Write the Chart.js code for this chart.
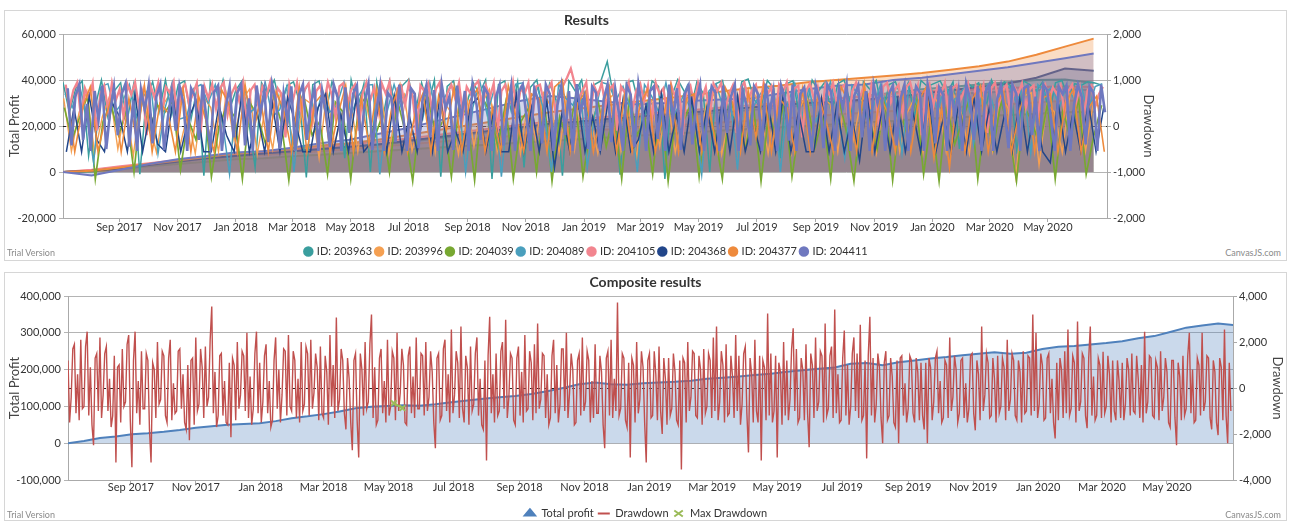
<!DOCTYPE html>
<html lang="en">
<head>
<meta charset="utf-8" />
<title>Results</title>
<style>
  * { margin: 0; padding: 0; }
  body { background: #fff; width: 1290px; height: 532px; position: relative; overflow: hidden; font-family: Lato, sans-serif; }
  .box { position: absolute; left: 4px; width: 1281px; border: 1px solid #d6d6d6; background: #fff; }
  #topBox { top: 10px; height: 249px; }
  #bottomBox { top: 272px; height: 247px; }
  .wrap { position: absolute; left: 0; top: 0; }
  .trial { position: absolute; left: 2px; top: 236px; font-size: 9px; color: #8a8a8a; }
  .brand { position: absolute; right: 5px; top: 236px; font-size: 9px; color: #8a8a8a; }
</style>
</head>
<body>
<div class="box" id="topBox">
  <div class="wrap" style="width:1163px;height:249px"><canvas id="resultsChart"></canvas></div>
  <span class="trial">Trial Version</span>
  <span class="brand">CanvasJS.com</span>
</div>
<div class="box" id="bottomBox">
  <div class="wrap" style="width:1281px;height:247px"><canvas id="compositeChart"></canvas></div>
  <span class="trial">Trial Version</span>
  <span class="brand">CanvasJS.com</span>
</div>

<script src="https://cdn.jsdelivr.net/npm/chart.js@4.4.1/dist/chart.umd.min.js"></script>
<script>
// x axis: days counted from 1 Jul 2017
const tickLabels = ["Sep 2017", "Nov 2017", "Jan 2018", "Mar 2018", "May 2018", "Jul 2018", "Sep 2018", "Nov 2018",
  "Jan 2019", "Mar 2019", "May 2019", "Jul 2019", "Sep 2019", "Nov 2019", "Jan 2020", "Mar 2020", "May 2020"];
const ids = ["203963", "203996", "204039", "204089", "204105", "204368", "204377", "204411"];
const idColors = ["#3a9e9e", "#f5a052", "#78a832", "#4a9fbd", "#f2858f", "#22468a", "#ee8a3c", "#6f78bf"];
const idLineWidths = [1.5, 1.4, 1.7, 1.5, 2.3, 1.5, 1.6, 2.6];

// per-ID drawdown, spread evenly from first to last day
const ddFirstDay = 3;
const ddLastDay = 1090;
const dd203963 = [950, 300, 820, 980, -650, 400, 1000, 200, 760, 940, 100, 880, -1050, 600, 960, 300, 1000, 250, 900, 980,
  150, 860, -1080, 950, 420, 1000, 350, 780, 990, 120, -900, 940, 700, 1000, 420, 880, 960, 500, -1120, 900,
  980, 250, 960, 640, -700, 1000, 380, 920, -1000, 960, 200, 990, 380, 880, 1020, 300, 940, 460, 1000, -1100,
  860, 980, 280, 450, 960, 700, 1000, -1150, 900, 980, 320, 960, -900, 840, 1000, 300, 920, 560, -1080, 980,
  760, 1000, 200, 900, 980, 1400, 620, -1060, 940, 990, 420, 250, 980, 860, -1150, 620, 1010, 760, 350, 960,
  700, -1000, 920, 990, 300, 150, 960, 1020, 560, 400, 990, 820, -700, 920, 980, 240, 320, 1000, 760, 960,
  300, 920, 1000, 480, -650, 960, 800, 990, 250, 900, 960, 600, 940, 200, 990, 860, 920, 980, 700, 960,
  -500, 980, 840, 940, 300, 1000, 700, 960, 880, -600, 980, 900, 760, 960, 250, 940, 990, 600, 920, 880,
  960, 940, 900];
const dd203996 = [600, -550, 300, 750, -600, 200, 680, -500, 450, -650, 720, 100, -580, 500, 780, -450, 250, -600, 650, 400,
  -560, 700, -300, 550, 800, -620, 350, -500, 720, 150, -580, 600, 480, -700, 760, -400, 300, 650, -560, 520,
  -250, 780, -600, 420, 690, -540, 100, 740, -580, 560, 300, -620, 700, -450, 480, 800, -560, 250, 650, -600,
  560, -300, 720, 400, -580, 640, -520, 780, 200, -600, 500, 690, -560, 350, -700, 760, 520, -450, 620, -580,
  300, 740, -560, 480, 700, -620, 200, 650, -540, 780, 420, -600, 560, 700, -580, 350, 720, -500, 610, 480,
  -560, 760, -300, 540, 700, -590, 420, 780, -560, 300, 650, -600, 720, 500, -560, 680, 250, -600, 740, 560,
  -540, 700, 380, -1100, 650, 720, -850, 480, 300, -580, 700, 620, -550, 500, 400];
const dd204039 = [400, -300, 200, 650, -1150, 100, 500, -200, 300, -1000, 600, -100, 450, 300, 550, -950, 150, -300, 620, -1100,
  0, 450, 200, -1150, 500, 200, -400, 650, 100, -1180, 300, 580, -200, 100, -1050, 520, 300, -1150, 400, 650,
  -300, 200, -1000, 580, -100, -1200, 350, 600, -200, 150, -1100, 480, 250, -1180, 620, 300, -450, 500, -1150, 100,
  400, -1000, 550, -1200, 200, -350, 600, -1100, 0, 500, -450, 300, -1150, 650, -200, 150, -1050, 580, -1200, 250,
  100, 520, -1100, 380, -150, -1150, 600, 100, -500, 480, -1200, 300, -300, 560, -1100, 50, 500, -450, 250, -1150,
  620, -100, -1200, 400, 150, -500, 550, -1180, 300, -250, 600, -1050, 200, -1200, 480, -400, 100, 650, -1150, 300,
  -500, 550, -100, -1200, 420, 100, -450, 500, -1150, 350, -300, 600, -1050, -200, 450];
const dd204089 = [700, 400, 900, 250, -800, 850, 920, 300, 500, 900, 200, 650, 880, -600, 400, 950, 150, 200, 820, 900,
  500, 900, 100, -1050, 750, 880, 300, 500, 940, 200, 350, 860, -1000, 600, 920, 150, 780, 300, 450, 960,
  250, 650, 880, 900, -1050, 300, 900, 400, 820, 560, 150, 940, 150, 600, 870, 650, -1000, 400, 960, 250,
  800, -1100, 500, 910, 940, 300, 850, 300, -1000, 920, 600, 450, 880, -900, 200, 950, 900, 550, 860, 400,
  -1000, 900, 650, 300, 940, 200, 500, 880, 250, -1050, 760, 920, 400, 600, -950, 900, 350, 650, 870, 720,
  -1000, 480, 930, 200, 820, 100, 550, 960, 300, -700, 880, 640, 200, 420, 900, 350, 780, -600, 920, 500,
  200, 860, 300, 940, 500, 700, 880, -400, 600, 900, 300, 800, 850, 500, 880, -600, 900, 700, 860, 400,
  880, 600, 900, 300, 860, 920];
const dd204105 = [900, 400, 780, 950, 150, 820, 600, 930, -100, 700, 880, 350, 940, 560, 800, 200, 910, 680, 950, 420,
  760, -200, 880, 620, 940, 300, 850, 720, 960, 100, 800, 900, 480, 700, 930, -150, 860, 600, 910, 380,
  820, 950, 250, 700, 880, 540, 940, 0, 780, 900, 420, 860, 640, 950, 300, 820, 700, -250, 900, 580,
  940, 360, 800, 920, 120, 760, 880, 500, 950, 680, 200, 860, 930, 420, 780, 900, -100, 700, 950, 560,
  840, 300, 920, 700, 960, 180, 820, 880, 450, 940, 620, -200, 880, 760, 930, 340, 800, 950, 100, 720,
  900, 600, 940, 260, 850, 700, 880, 980, 400, 880, 620, 930, -150, 760, 900, 480, 950, 300, 820, 700,
  940, 150, 860, 900, 520, 780, 950, 320, 700, 880, 1050, 1250, 920, 600, 760, 950, 200, 880, 680, 930,
  420, 800, 900, -100, 860, 720, 950, 360, 780, 920, 540, 880, 100, 940, 700, 820, 260, 900, 640, 950,
  -200, 760, 880, 480, 930, 600, 850, 200, 920, 760, 940, 320, 700, 880, -150, 820, 950, 560, 780, 900,
  400, 940, 680, 860, 150, 900, 740, 950, 300, 820, 880, -250, 760, 930, 600, 850, 220, 900, 700, 940,
  480, 820, 900, 100, 760, 950, 620, 880, 340, 920, 700, -100, 860, 940, 520, 780, 900, 260, 840, 950,
  600, 880, -200, 760, 920, 440, 850, 700, 940, 180, 820, 900, 560, 760, 930, 300, 880, 640, 900, -150,
  820, 940, 480, 760, 900, 260, 850, 700, 930, 400, 800, 880, 120, 760, 900, 560, 840, 700, 880, 300,
  760, 900, 500, 840, 200, 780, 880, 420, 700, 850];
const dd204368 = [-560, 400, -560, 650, -300, -560, 500, 200, -560, 700, -560, 300, -400, -560, 600, -560, 150, 550, -560, -560,
  450, -200, -560, 680, -560, 300, -560, 500, -560, 620, 100, -560, -560, 400, 700, -560, 250, -560, 600, -560,
  -350, 500, -560, 650, -560, 200, -560, 550, -560, 680, -560, -100, -560, 450, 620, -560, 300, -560, -560, 700,
  -560, 400, -560, 550, -900, 300, -560, 650, -560, 200, -560, 500, -560, 600, -560, -300, 450, -560, 700, -560,
  250, -560, 600, -560, 400, -560, 550, -560, 650, -560, 100, -560, 500, -560, 700, -560, 300, -560, -560, 600,
  -560, 450, -560, 200, -750, 650, -560, 400, -560, 550, -560, 300, -560, 680, -560, 200, -560, 500, -560, 620,
  -560, 400, -560, 250, -560, 600, -560, 450, -560, -800, 550, -560, 300, -560, 500, -560, 400];
const dd204377 = [700, -560, 400, 850, -560, 200, 750, -560, 600, -300, 880, -560, 500, 300, -560, 820, -560, 650, 100, -560,
  780, 450, -560, 900, -200, 600, -560, 750, 350, -560, 850, -560, 500, 700, -560, 250, 880, -560, 600, -400,
  800, -560, 450, 900, -560, 300, 720, -560, 650, -100, 850, -560, 550, 800, -560, 400, -560, 880, 200, -560,
  700, 600, -560, 850, 1000, -560, 500, 750, -560, 300, 880, -560, 650, -560, 450, 800, -560, 200, 900, -560,
  600, 700, -560, 350, -560, 850, 500, -560, 750, -250, 880, -560, 600, 400, -560, 800, -560, 700, 150, -560,
  850, 500, -560, 900, -560, 650, 300, -560, 780, -560, 550, 850, -700, 400, -900, 720, -560, 600, 880, -560,
  450, 750, -560, 300, 850, -560, 600, 700, -560, 500, 800, -560, 400, 650, -560];
const dd204411 = [820, -420, 650, 900, -300, 480, -540, 760, 120, 880, -500, 300, 850, -200, 700, 920, -450, 560, -540, 800,
  350, 880, -380, 640, 900, -520, 200, 760, -100, 870, 500, -540, 820, 650, -300, 900, 150, -480, 740, 880,
  -540, 400, 860, -250, 720, 900, -420, 600, -540, 880, 260, 780, -350, 920, 540, -500, 700, 100, 860, -540,
  680, 900, -300, 450, 830, -540, 760, 280, -460, 900, 620, -540, 840, -150, 700, 880, -400, 500, 910, -520,
  300, 860, -540, 720, 600, -350, 900, 200, -540, 820, 700, -480, 560, 880, -250, 780, -540, 900, 380, 650,
  -520, 880, 120, 760, -540, 900, 480, -300, 840, 700, -540, 620, 890, -420, 300, 860, -540, 740, 900, 180,
  -540, 820, 560, -380, 900, 700, -540, 450, 880, -200, 760, -540, 910, 320, 640, -500, 860, 720, -540, 580,
  900, -350, 800, 250, -540, 880, 680, -460, 920, 400, -540, 760, 860, -280, 600, -540, 900, 150, 820, -520,
  700, 880, -400, 520, 900, -540, 340, 860, 720, -540, 880, -150, 640, 900, -540, 780, 460, -420, 860, 700,
  -540, 920, 280, 760, -540, 880, 600, -320, 900, -540, 700, 840, 100, -540, 880, 560, -480, 900, 740, -540,
  820, 380, 900, -540, 660, 880, -250, 760, -540, 900, 500, 820, -540, 700, 880, -420, 600, 900, -540, 300,
  860, 720, -540, 900, 450, -380, 840, 680, -540, 880, 200, 760, -540, 920, 600, -300, 860, -540, 740, 900,
  -540, 560, 880, 320, -480, 900, 700, -540, 820, 880, -200, 640, -540, 900, 780, 100, -540, 860, 700, 880,
  -540, 480, 900, 620, -400, 860, 720, -540, 900, 300];

// per-ID total profit, one value every 30 days
const profitFirstDay = 3;
const profitDayStep = 30;
const profit203963 = [0, 300, 1500, 3000, 4500, 5500, 6500, 7500, 8500, 9500, 10500, 11500, 13000, 14500, 16000, 17500, 19000, 20500, 21500, 22500, 23500, 25000, 26000, 27000, 28000, 29500, 31000, 32000, 33000, 34500, 36000, 37000, 38000, 39000, 40000, 40200, 38700];
const profit203996 = [0, 800, 2200, 3500, 4500, 5800, 6800, 7500, 8200, 9000, 10000, 11000, 12000, 13000, 14000, 15000, 16000, 17000, 17800, 18500, 19200, 20000, 20800, 21500, 22300, 23000, 24000, 25000, 25800, 26500, 27300, 28000, 28800, 29500, 30200, 31000, 31000];
const profit204039 = [0, 200, 1200, 2500, 3500, 4500, 5500, 6000, 6800, 7500, 8300, 9000, 9800, 10500, 11300, 12000, 12800, 13500, 14200, 15000, 15800, 16500, 17200, 18000, 18700, 19300, 20000, 20800, 21500, 22200, 23000, 23600, 24200, 24800, 25300, 26000, 26200];
const profit204089 = [0, 500, 1800, 3200, 4800, 6000, 7000, 8000, 9000, 10000, 11000, 12200, 13500, 15000, 16300, 17500, 18800, 20000, 21000, 22000, 23000, 24000, 25000, 26000, 27000, 28000, 29000, 30000, 31000, 32000, 33000, 33800, 34500, 35000, 35500, 36000, 35500];
const profit204105 = [0, 1000, 2500, 3800, 5200, 6500, 7500, 8500, 9500, 10800, 12000, 13200, 14500, 16000, 17500, 19000, 20500, 22000, 23000, 24000, 25000, 26000, 27000, 28000, 29000, 30000, 31000, 32000, 33000, 34000, 35000, 35500, 36000, 36500, 37000, 37200, 37000];
const profit204368 = [0, 500, 1500, 3000, 4500, 6000, 7000, 8000, 9000, 10000, 11000, 12000, 13500, 15000, 16500, 18000, 19500, 21000, 22000, 23000, 24000, 25000, 26000, 27000, 28000, 29000, 30000, 30500, 31500, 32500, 34000, 35500, 37000, 38500, 41000, 45000, 44000];
const profit204377 = [0, 500, 2000, 3500, 5000, 6500, 8000, 9000, 10000, 11500, 12500, 14000, 16000, 18000, 20000, 22000, 24000, 26000, 27500, 29000, 30500, 32000, 33500, 35000, 36500, 37500, 39000, 40000, 41000, 42000, 43000, 44500, 46000, 48000, 51000, 54500, 58000];
const profit204411 = [0, -1500, 1000, 3500, 5500, 7000, 8500, 9000, 10500, 12500, 14000, 16500, 19000, 22000, 25000, 28000, 31000, 33000, 32000, 30500, 29500, 30000, 31000, 31500, 32000, 34000, 36000, 37500, 38000, 40000, 41000, 42500, 44000, 45500, 47500, 49500, 51500];

// composite results
const compositeProfitStep = 15;
const compositeProfit = [0, 6000, 14000, 18000, 24000, 27000, 31000, 36000, 42000, 46000, 50000, 52000, 54000, 60000, 68000, 73000, 79000, 86000, 95000, 99000, 101000, 103000, 102000, 106000, 111000, 116000, 121000, 125000, 128000, 134000, 141000, 150000, 160000, 165000, 160000, 159000, 163000, 165000, 167000, 170000, 175000, 178000, 181000, 185000, 189000, 194000, 198000, 202000, 206000, 216000, 218000, 212000, 220000, 225000, 230000, 234000, 239000, 243000, 247000, 243000, 246000, 256000, 262000, 264000, 268000, 272000, 277000, 285000, 291000, 302000, 314000, 320000, 325000, 321000];
const compositeDdFirstDay = 3;
const compositeDdLastDay = 1095;
const compositeDrawdown = [
  1200, -1500, -400, 1700, 1900, -1100, 600, -1400, 2100, -900, -800, 1800, 2450, -1200, 900, -1600, -2490, 1300, 1500, -1000,
  2200, -1300, -300, 1500, 1800, -1000, 400, -1700, -1200, 1400, -3240, 900, 1000, -1500, 1700, -800, -600, 1900, 2300, -1400,
  -3450, 1200, 2450, -1100, 300, -1600, 1600, -900, -900, 1500, 1200, -1800, -3240, 1100, 800, -1300, 2000, -700, -500, 1600,
  1400, -1200, -1500, 1300, 2100, -1400, 200, -1100, -1000, 1600, 1700, -900, 600, -1500, -1800, 1000, -2270, 1200, 1300, -1600,
  2200, -1000, -700, 1700, 900, -1300, 1800, -800, -400, 2100, 3540, -1100, 700, -1700, -1200, 1400, 1500, -1200, 300, -1500,
  -1600, 1100, -2140, 1300, 1000, -1400, 2000, -900, -300, 1600, 1400, -1000, 2400, -1300, 500, -1600, -900, 1500, 2450, -1100,
  1100, -1500, -600, 1400, 1900, -1100, 300, -1700, -1400, 1200, 2200, -900, 800, -1500, -300, 1700, 1600, -1200, 2300, -800,
  -1000, 1600, 1200, -1300, 400, -1500, 2000, -1000, -700, 1800, 1500, -1200, 2100, -900, -200, 1500, 900, -1400, 1800, -1100,
  -1300, 1400, 700, -1600, 2300, -800, 1000, -1300, 3060, -1000, -500, 1700, 1200, -1100, -1800, 1300, 400, -1500, -2710, 1200,
  1500, -1400, -3020, 1500, 800, -1200, 2000, -900, -600, 1900, 3190, -1300, 900, -1600, -1400, 1300, 1700, -1100, 300, -1500,
  2100, -1200, -800, 1600, 1300, -1400, 2400, -1000, -200, 1700, 1000, -1500, -1600, 1400, 1800, -1100, 500, -1300, 2200, -900,
  -900, 1500, 1400, -1200, 2000, -1000, -400, 1600, 700, -1500, -2620, 1300, 1500, -1400, -1200, 1700, 2100, -1000, 600, -1500,
  2540, -1100, -300, 1600, 1100, -1300, 2670, -900, -1500, 1400, 900, -1600, 1800, -1000, -700, 1500, 2200, -1200, 400, -1600,
  -1800, 1200, -3150, 1400, 3100, -1100, 600, -1500, 1500, -1200, -1000, 1600, 2000, -900, 2970, -1300, -400, 1500, 1300, -1400,
  -1600, 1300, 1800, -1200, 700, -1500, 2300, -1000, -900, 1600, 1100, -1400, 1900, -1100, 2800, -900, -500, 1500, 1400, -1300,
  600, -1600, -1300, 1400, 2100, -1100, 1000, -1500, -700, 1700, 1700, -1000, 2400, -1300, -200, 1500, 800, -1600, -1500, 1200,
  1500, -1200, 2200, -1000, -600, 1600, 1200, -1500, 300, -1300, 1900, -1100, -1100, 1400, 700, -1600, -2620, 1300, 1600, -1200,
  2100, -1300, 400, -1000, 3720, -1200, -900, 1500, 1300, -1400, -1700, 1100, -3020, 1300, 1000, -1500, 2000, -1100, -500, 1600,
  900, -1500, -3240, 1200, 1500, -1300, -1200, 1600, 600, -1400, 1800, -1000, -2000, 1300, 400, -1600, 1300, -1200, -900, 1500,
  700, -1400, -1600, 1200, -3540, 1300, 1100, -1500, 2000, -1000, -400, 1600, 1500, -1200, -1300, 1400, 800, -1600, 1700, -1100,
  -800, 1500, 1200, -1300, 2200, -1000, 2670, -1400, -600, 1600, 1000, -1500, 1900, -1200, -1100, 1400, 500, -1300, 2300, -1000,
  1400, -1600, -700, 1500, 1800, -1100, -2800, 1300, 600, -1500, 2100, -1000, -1500, 1400, -3150, 1200, 900, -1400, 3240, -1200,
  1500, -1500, -1000, 1400, -3020, 1100, 700, -1600, 2000, -1200, 1200, -1400, -500, 1700, 2600, -1000, 1700, -1500, -1300, 1300,
  800, -1400, 1900, -1100, -2580, 1500, 1000, -1300, 2200, -1000, -600, 1600, 1400, -1500, 2800, -1200, -900, 1400, 1800, -1300,
  3410, -1100, 600, -1500, -1400, 1300, 2500, -1200, 1000, -1600, -800, 1500, 2200, -1000, 1500, -1300, 2750, -1400, -1200, 1200,
  -3060, 1400, 3100, -1200, 1300, -1500, -700, 1500, 900, -1300, -2400, 1100, 1600, -1400, -1200, 1300, 500, -1500, -1700, 1200,
  -2400, 1300, 1400, -1200, 200, -1500, -900, 1400, 1200, -1100, -1500, 1300, 700, -1400, 1100, -1200, -1800, 1100, -2400, 1300,
  900, -1400, -600, 1300, 1600, -1100, 300, -1500, -1300, 1200, 1000, -1300, 2190, -1000, -400, 1400, 800, -1500, -1100, 1200,
  1300, -1300, 200, -1500, -900, 1400, 1500, -1100, -1840, 1200, 600, -1400, 2670, -1000, -300, 1500, 1100, -1300, -1200, 1300,
  400, -1500, 1400, -1100, -800, 1300, 900, -1400, 2100, -1000, -500, 1500, 1200, -1200, -1400, 1200, 700, -1500, 1600, -1100,
  -1000, 1400, 1300, -1200, 3190, -1000, 2400, -1300, -700, 1500, 1000, -1400, -1300, 1300, 1500, -1100, 400, -1500, -2190, 1100,
  -1400, 1300, 800, -1300, 1600, -1100, 2540, -1200, -900, 1400, 1100, -1500, 2890, -1000, -600, 1500, 1300, -1200, -1750, 1300,
  2670, -1200, 500, -1400, -1200, 1300, 1000, -1300, 1570, -1100, -800, 1400, 600, -1500, 1200, -1000, -1400, 1200, 300, -1300,
  1100, -1400, -700, 1300, 800, -1200, 1500, -1000, -1100, 1400, 400, -1300, 1000, -1500, 2450, -1100, -600, 1400, 1300, -1200,
  -1300, 1200, 900, -1400, 1600, -1000, -400, 1300, 700, -1500, -1700, 1200, 1200, -1300, -2490, 1100, 500, -1400, 1400, -1200,
  -900, 1400, 2400, -1100, 800, -1500, -1400, 1300, 1000, -1200, 2400, -1000, -600, 1400, 1300, -1300, -1800, 1200, 700, -1500,
  -2050, 1300, 900, -1400, 2540, -1200, -2400, 1100, -1000];
const maxDrawdownDays = [309, 317];
const maxDrawdownValues = [-660, -870];

const ddSeries = [dd203963, dd203996, dd204039, dd204089, dd204105, dd204368, dd204377, dd204411];
const profitSeries = [profit203963, profit203996, profit204039, profit204089, profit204105, profit204368, profit204377, profit204411];

const monthNames = ["Jan", "Feb", "Mar", "Apr", "May", "Jun", "Jul", "Aug", "Sep", "Oct", "Nov", "Dec"];
const dayZero = Date.UTC(2017, 6, 1);
const tickDays = tickLabels.map(l => {
  const [m, y] = l.split(" ");
  return (Date.UTC(+y, monthNames.indexOf(m), 1) - dayZero) / 86400000;
});

// spread n samples evenly between two days
function spread(vals, first, last, shift) {
  const step = (last - first) / (vals.length - 1);
  return vals.map((v, j) => ({ x: first + step * j + shift, y: v }));
}

Chart.defaults.font.family = "Lato, sans-serif";
Chart.defaults.color = "#333";

function alpha(hex, a) {
  const n = parseInt(hex.slice(1), 16);
  return `rgba(${n >> 16}, ${(n >> 8) & 255}, ${n & 255}, ${a})`;
}

const zeroLine = {
  id: "zeroLine",
  beforeDatasetsDraw(chart) {
    const { ctx, chartArea: { left, right }, scales: { y1 } } = chart;
    const yz = Math.round(y1.getPixelForValue(0)) + 0.5;
    ctx.save();
    ctx.strokeStyle = "#222";
    ctx.lineWidth = 1;
    ctx.setLineDash([3, 4]);
    ctx.beginPath();
    ctx.moveTo(left, yz);
    ctx.lineTo(right, yz);
    ctx.stroke();
    ctx.restore();
  },
};

function xAxis(pad) {
  return {
    type: "linear",
    min: 3,
    max: 1097,
    afterBuildTicks(scale) { scale.ticks = tickDays.map(v => ({ value: v })); },
    afterFit(scale) { scale.height = 24; },
    ticks: { autoSkip: false, maxRotation: 0, padding: pad, font: { size: 11 }, callback: (v, i) => tickLabels[i] },
    grid: { drawOnChartArea: false, tickLength: 4, color: "#aaa" },
    border: { color: "#aaa" },
  };
}

function yAxis(min, max, step, width, titlePad) {
  return {
    position: "left",
    min, max,
    afterFit(scale) { scale.width = width; },
    ticks: { stepSize: step, padding: 3, font: { size: 11 }, callback: v => v.toLocaleString("en-US") },
    grid: { color: "#b4b4b4", tickLength: 4 },
    border: { color: "#aaa" },
    title: { display: true, text: "Total Profit", font: { size: 13 }, color: "#444", padding: { top: titlePad, bottom: 0 } },
  };
}

function y1Axis(min, max, step, width, titlePad) {
  return {
    position: "right",
    min, max,
    afterFit(scale) { scale.width = width; },
    ticks: { stepSize: step, padding: 2, font: { size: 11 }, callback: v => v.toLocaleString("en-US") },
    grid: { drawOnChartArea: false, color: "#aaa", tickLength: 4 },
    border: { color: "#aaa" },
    title: { display: true, text: "Drawdown", font: { size: 13 }, color: "#444", padding: { top: titlePad, bottom: 0 } },
  };
}

function legendFor(maxHeight, filter, pointWidth) {
  return {
    position: "bottom",
    maxHeight,
    labels: {
      usePointStyle: true,
      boxWidth: 6,
      boxHeight: 6,
      pointStyleWidth: pointWidth,
      padding: 4,
      font: { size: 11 },
      color: "#333",
      filter,
      sort: (a, b) => a.datasetIndex - b.datasetIndex,
      generateLabels(chart) {
        const items = Chart.defaults.plugins.legend.labels.generateLabels(chart);
        items.forEach(it => {
          const ds = chart.data.datasets[it.datasetIndex];
          it.fillStyle = ds.borderColor;
          it.strokeStyle = ds.borderColor;
          it.lineWidth = 2;
        });
        return items;
      },
    },
  };
}

function titleFor(text) {
  return { display: true, text, color: "#333", font: { size: 14, weight: "bold" }, padding: { top: 0.6, bottom: 5.6 } };
}

// ---- Results ----
const resultsSets = [];
ddSeries.forEach((vals, i) => {
  resultsSets.push({
    label: "ID: " + ids[i],
    data: spread(vals, ddFirstDay, ddLastDay, i * 0.7),
    yAxisID: "y1",
    borderColor: idColors[i],
    backgroundColor: idColors[i],
    borderWidth: idLineWidths[i],
    pointRadius: 0,
    pointStyle: "circle",
    fill: false,
    order: 7 - i,
  });
});
profitSeries.forEach((vals, i) => {
  resultsSets.push({
    label: "Profit " + ids[i],
    data: vals.map((v, j) => ({ x: profitFirstDay + profitDayStep * j, y: v })),
    yAxisID: "y",
    borderColor: idColors[i],
    backgroundColor: alpha(idColors[i], 0.3),
    borderWidth: 2,
    pointRadius: 0,
    fill: "origin",
    order: 27 - i,
  });
});

new Chart(document.getElementById("resultsChart"), {
  type: "line",
  data: { datasets: resultsSets },
  options: {
    responsive: true,
    maintainAspectRatio: false,
    animation: false,
    events: [],
    layout: { padding: 0 },
    scales: {
      x: xAxis(-1),
      y: yAxis(-20000, 60000, 20000, 58, 2),
      y1: y1Axis(-2000, 2000, 1000, 61, 12),
    },
    plugins: {
      title: titleFor("Results"),
      legend: legendFor(18, item => item.datasetIndex < ids.length),
      tooltip: { enabled: false },
    },
  },
  plugins: [zeroLine],
});

// ---- Composite results ----
new Chart(document.getElementById("compositeChart"), {
  type: "line",
  data: {
    datasets: [
      {
        label: "Total profit",
        data: compositeProfit.map((v, j) => ({ x: 3 + compositeProfitStep * j, y: v })),
        yAxisID: "y",
        borderColor: "#4f81bc",
        backgroundColor: "rgba(79, 129, 188, 0.3)",
        borderWidth: 2,
        pointRadius: 0,
        pointStyle: "triangle",
        fill: "origin",
        order: 2,
      },
      {
        label: "Drawdown",
        data: spread(compositeDrawdown, compositeDdFirstDay, compositeDdLastDay, 0),
        yAxisID: "y1",
        borderColor: "#c0504e",
        backgroundColor: "#c0504e",
        borderWidth: 1.4,
        pointRadius: 0,
        pointStyle: "line",
        fill: false,
        order: 1,
      },
      {
        label: "Max Drawdown",
        data: maxDrawdownDays.map((d, j) => ({ x: d, y: maxDrawdownValues[j] })),
        yAxisID: "y1",
        borderColor: "#9bbb58",
        backgroundColor: "#9bbb58",
        borderWidth: 2,
        pointRadius: 4,
        pointStyle: "crossRot",
        fill: false,
        order: 0,
      },
    ],
  },
  options: {
    responsive: true,
    maintainAspectRatio: false,
    animation: false,
    events: [],
    layout: { padding: 0 },
    scales: {
      x: xAxis(-3),
      y: yAxis(-100000, 400000, 100000, 63, 2),
      y1: y1Axis(-4000, 4000, 2000, 53, 1),
    },
    plugins: {
      title: titleFor("Composite results"),
      legend: legendFor(16, () => true, 12),
      tooltip: { enabled: false },
    },
  },
  plugins: [zeroLine],
});
</script>
</body>
</html>
